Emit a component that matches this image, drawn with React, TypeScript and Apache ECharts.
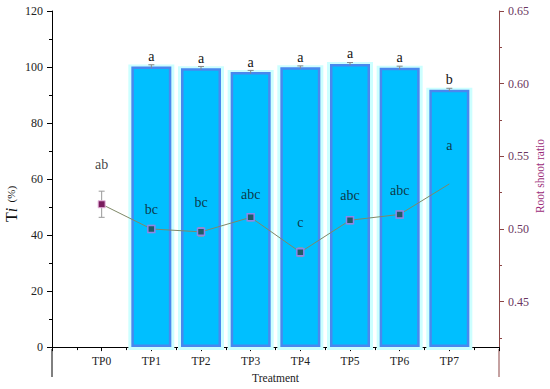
import React, { useEffect, useRef } from "react";
import * as echarts from "echarts";

const categories = ["TP0", "TP1", "TP2", "TP3", "TP4", "TP5", "TP6", "TP7"];
const tiValues = [0, 100.2, 99.6, 98.2, 99.9, 101.1, 99.7, 91.9];
const tiErrors = [0, 0.6, 0.6, 0.6, 0.5, 0.5, 0.6, 0.5];
const tiLetters = ["", "a", "a", "a", "a", "a", "a", "b"];
const rsrValues = [0.517, 0.5, 0.498, 0.508, 0.484, 0.506, 0.51, 0.531];
const rsrErrors = [0.009, 0.0025, 0.003, 0.0025, 0.003, 0.0025, 0.0025, 0];
const rsrLetters = ["ab", "bc", "bc", "abc", "c", "abc", "abc", "a"];
const rsrLetterPos = [0.5446, 0.5133, 0.5184, 0.5234, 0.5042, 0.5229, 0.5268, 0.5576];
const leftTicks = { min: 0, max: 120, interval: 20 };
const rightRange = { min: 0.4187, max: 0.65 };
const rightLabelValues = [0.45, 0.5, 0.55, 0.6, 0.65];
const rightMinorValues = [0.425, 0.475, 0.525, 0.575, 0.625];

const FONT = "'Liberation Serif', 'Times New Roman', serif";

export default function App() {
  const ref = useRef<HTMLDivElement>(null);
  useEffect(() => {
    if (!ref.current) return;
    const chart = echarts.init(ref.current, null, { renderer: "svg" });
    const barData = tiValues.map((v, i) => (v > 0 ? [i, v] : [i, "-"]));
    const option: any = {
      animation: false,
      backgroundColor: "#ffffff",
      grid: { left: 52, right: 51, top: 11, bottom: 40, containLabel: false },
      xAxis: {
        type: "value",
        min: -1,
        max: 8,
        interval: 1,
        axisLine: { onZero: false, lineStyle: { color: "#000", width: 1 } },
        axisTick: { length: 4, lineStyle: { color: "#000" } },
        minorTick: { show: true, splitNumber: 2, length: 3, lineStyle: { color: "#000" } },
        splitLine: { show: false },
        axisLabel: {
          formatter: (v: number) => (v >= 0 && v < categories.length ? categories[v] : ""),
          fontFamily: FONT,
          fontSize: 11.5,
          color: "#222",
          margin: 8,
        },
        name: "Treatment",
        nameLocation: "middle",
        nameGap: 23,
        nameTextStyle: { fontFamily: FONT, fontSize: 11.5, color: "#222" },
      },
      yAxis: [
        {
          type: "value",
          position: "left",
          min: leftTicks.min,
          max: leftTicks.max,
          interval: leftTicks.interval,
          axisLine: { show: true, onZero: false, lineStyle: { color: "#000", width: 1 } },
          axisTick: { show: true, length: 5, lineStyle: { color: "#000" } },
          minorTick: { show: true, splitNumber: 2, length: 3, lineStyle: { color: "#000" } },
          splitLine: { show: false },
          axisLabel: { fontFamily: FONT, fontSize: 12, color: "#222", margin: 9 },
        },
        {
          type: "value",
          position: "right",
          min: rightRange.min,
          max: rightRange.max,
          axisLine: { show: true, onZero: false, lineStyle: { color: "#8B4545", width: 1 } },
          axisTick: { show: true, length: 5, customValues: rightLabelValues, lineStyle: { color: "#8B4545" } },
          splitLine: { show: false },
          axisLabel: {
            customValues: rightLabelValues,
            formatter: (v: number) => v.toFixed(2),
            fontFamily: FONT,
            fontSize: 12,
            color: "#6b3560",
            margin: 9,
          },
        },
        {
          type: "value",
          position: "right",
          min: rightRange.min,
          max: rightRange.max,
          axisLine: { show: false, onZero: false },
          axisTick: { show: true, length: 3, customValues: rightMinorValues, lineStyle: { color: "#8B4545" } },
          splitLine: { show: false },
          axisLabel: { show: false },
        },
      ],
      series: [
        {
          type: "custom",
          name: "halo",
          z: 1,
          data: tiValues.map((v, i) => [i, v]),
          renderItem: (params: any, api: any) => {
            const x = api.value(0);
            const v = api.value(1);
            if (!v) return null;
            const top = api.coord([x, v]);
            const bot = api.coord([x, 0]);
            return {
              type: "rect",
              shape: { x: top[0] - 23, y: top[1] - 2, width: 46, height: bot[1] - top[1] + 5 },
              style: { fill: "#CCFFFF" },
            };
          },
        },
        {
          type: "bar",
          name: "Ti",
          z: 2,
          barWidth: 40,
          data: barData,
          itemStyle: { color: "#00BFFF", borderColor: "#4A88EE", borderWidth: 2.5 },
          label: {
            show: true,
            position: "top",
            distance: 3,
            formatter: (p: any) => tiLetters[p.dataIndex],
            fontFamily: FONT,
            fontSize: 14,
            color: "#111",
          },
        },
        {
          type: "custom",
          name: "tiErr",
          z: 3,
          data: tiValues.map((v, i) => [i, v, tiErrors[i]]),
          renderItem: (params: any, api: any) => {
            const x = api.value(0);
            const v = api.value(1);
            const e = api.value(2);
            if (!v || !e) return null;
            const hi = api.coord([x, v + e]);
            const lo = api.coord([x, v - e]);
            return {
              type: "group",
              children: [
                { type: "line", shape: { x1: hi[0], y1: hi[1], x2: lo[0], y2: lo[1] }, style: { stroke: "#888", lineWidth: 1 } },
                { type: "line", shape: { x1: hi[0] - 3, y1: hi[1], x2: hi[0] + 3, y2: hi[1] }, style: { stroke: "#888", lineWidth: 1 } },
              ],
            };
          },
        },
        {
          type: "line",
          name: "Root shoot ratio",
          yAxisIndex: 1,
          z: 5,
          data: rsrValues.map((v, i) => ({
            value: [i, v],
            symbol: i === rsrValues.length - 1 ? "none" : "rect",
            itemStyle:
              i === 0
                ? { color: "#7a1d5e", borderColor: "#e8b8e0", borderWidth: 1 }
                : { color: "#1e5c66", borderColor: "#8f86e8", borderWidth: 1.5 },
          })),
          symbolSize: 7,
          lineStyle: { color: "#7f8868", width: 1 },
        },
        {
          type: "custom",
          name: "rsrErr",
          yAxisIndex: 1,
          z: 4,
          data: rsrValues.map((v, i) => [i, v, rsrErrors[i]]),
          renderItem: (params: any, api: any) => {
            const x = api.value(0);
            const v = api.value(1);
            const e = api.value(2);
            if (!e) return null;
            const hi = api.coord([x, v + e]);
            const lo = api.coord([x, v - e]);
            const st = { stroke: "#9a9a9a", lineWidth: 1 };
            return {
              type: "group",
              children: [
                { type: "line", shape: { x1: hi[0], y1: hi[1], x2: lo[0], y2: lo[1] }, style: st },
                { type: "line", shape: { x1: hi[0] - 3, y1: hi[1], x2: hi[0] + 3, y2: hi[1] }, style: st },
                { type: "line", shape: { x1: lo[0] - 3, y1: lo[1], x2: lo[0] + 3, y2: lo[1] }, style: st },
              ],
            };
          },
        },
        {
          type: "scatter",
          name: "rsrLetters",
          yAxisIndex: 1,
          z: 6,
          symbol: "circle",
          symbolSize: 1,
          itemStyle: { color: "rgba(0,0,0,0)" },
          data: rsrLetterPos.map((v, i) => [i, v]),
          label: {
            show: true,
            position: "inside",
            formatter: (p: any) => rsrLetters[p.dataIndex],
            fontFamily: FONT,
            fontSize: 14,
            color: "#111",
          },
        },
      ],
      graphic: [
        { type: "line", shape: { x1: 52, y1: 349, x2: 52, y2: 377 }, style: { stroke: "#000", lineWidth: 1 } },
        { type: "line", shape: { x1: 499, y1: 349, x2: 499, y2: 377 }, style: { stroke: "#8B4545", lineWidth: 1 } },
        {
          type: "text",
          x: 11,
          y: 204,
          rotation: Math.PI / 2,
          style: {
            text: "{a|T}{b|i}{c|  (%)}",
            align: "center",
            verticalAlign: "middle",
            rich: {
              a: { fontFamily: FONT, fontSize: 16, fill: "#111" },
              b: { fontFamily: FONT, fontSize: 16, fontStyle: "italic", fill: "#111" },
              c: { fontFamily: FONT, fontSize: 11, fill: "#111" },
            },
          },
        },
        {
          type: "text",
          x: 540,
          y: 176,
          rotation: Math.PI / 2,
          style: {
            text: "Root shoot ratio",
            align: "center",
            verticalAlign: "middle",
            fontFamily: FONT,
            fontSize: 11.5,
            fill: "#9B2C7A",
          },
        },
      ],
    };
    chart.setOption(option);
    return () => chart.dispose();
  }, []);
  return (
    <div
      ref={ref}
      style={{ position: "absolute", left: 0, top: 0, width: 550, height: 389 }}
    />
  );
}
